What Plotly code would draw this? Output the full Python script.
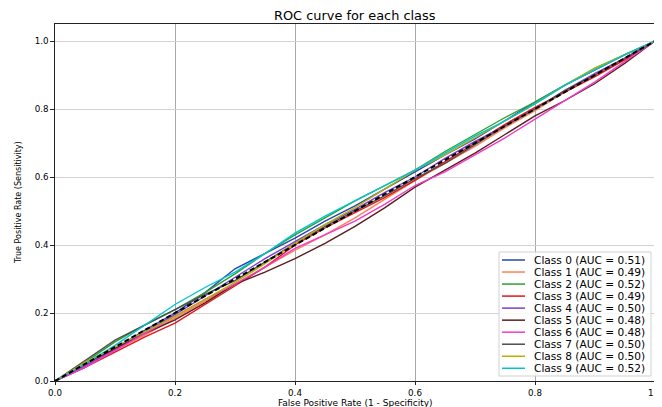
import plotly.graph_objects as go

# ---------------- data ----------------
fpr = [0, .05, .1, .15, .2, .25, .3, .35, .4, .45, .5, .55, .6, .65, .7, .75, .8, .85, .9, .95, 1]

tpr_class0 = [0, 0.040, 0.095, 0.150, 0.200, 0.260, 0.330, 0.375, 0.420, 0.470, 0.515, 0.565, 0.615, 0.665, 0.712, 0.765, 0.820, 0.870, 0.915, 0.960, 1]
tpr_class1 = [0, 0.045, 0.090, 0.135, 0.185, 0.235, 0.285, 0.335, 0.385, 0.430, 0.480, 0.535, 0.590, 0.640, 0.690, 0.745, 0.795, 0.850, 0.900, 0.945, 1]
tpr_class2 = [0, 0.055, 0.115, 0.165, 0.210, 0.260, 0.315, 0.375, 0.430, 0.480, 0.530, 0.575, 0.620, 0.675, 0.725, 0.775, 0.820, 0.870, 0.920, 0.960, 1]
tpr_class3 = [0, 0.040, 0.085, 0.130, 0.170, 0.225, 0.280, 0.335, 0.400, 0.450, 0.495, 0.540, 0.590, 0.645, 0.700, 0.755, 0.805, 0.850, 0.895, 0.945, 1]
tpr_class4 = [0, 0.045, 0.090, 0.145, 0.195, 0.250, 0.305, 0.360, 0.410, 0.460, 0.505, 0.555, 0.600, 0.655, 0.705, 0.750, 0.800, 0.855, 0.905, 0.950, 1]
tpr_class5 = [0, 0.050, 0.095, 0.140, 0.180, 0.230, 0.285, 0.320, 0.360, 0.405, 0.455, 0.510, 0.570, 0.620, 0.670, 0.725, 0.780, 0.825, 0.875, 0.935, 1]
tpr_class6 = [0, 0.040, 0.090, 0.140, 0.190, 0.240, 0.285, 0.335, 0.390, 0.430, 0.470, 0.520, 0.575, 0.615, 0.665, 0.715, 0.770, 0.825, 0.880, 0.940, 1]
tpr_class7 = [0, 0.060, 0.120, 0.165, 0.210, 0.255, 0.295, 0.350, 0.405, 0.455, 0.500, 0.545, 0.595, 0.640, 0.695, 0.750, 0.800, 0.855, 0.900, 0.950, 1]
tpr_class8 = [0, 0.055, 0.100, 0.145, 0.190, 0.240, 0.290, 0.345, 0.405, 0.460, 0.510, 0.565, 0.620, 0.665, 0.715, 0.765, 0.815, 0.870, 0.920, 0.960, 1]
tpr_class9 = [0, 0.050, 0.105, 0.165, 0.225, 0.275, 0.320, 0.375, 0.435, 0.485, 0.530, 0.575, 0.620, 0.670, 0.720, 0.765, 0.815, 0.870, 0.915, 0.960, 1]

class_names = ["Class 0", "Class 1", "Class 2", "Class 3", "Class 4",
               "Class 5", "Class 6", "Class 7", "Class 8", "Class 9"]
auc_values = [0.51, 0.49, 0.52, 0.49, 0.50, 0.48, 0.48, 0.50, 0.50, 0.52]

chance_x = [0, 1]
chance_y = [0, 1]

x_ticks = [0.0, 0.2, 0.4, 0.6, 0.8, 1.0]
y_ticks = [0.0, 0.2, 0.4, 0.6, 0.8, 1.0]

# ---------------- style ----------------
colors = ["#2546b4", "#ff7f50", "#2ca02c", "#e8141c", "#7d3cd6",
          "#5a1e1e", "#f03cc8", "#4d4d4d", "#b5b300", "#00c3d2"]
FONT = "DejaVu Sans"

all_tpr = [tpr_class0, tpr_class1, tpr_class2, tpr_class3, tpr_class4,
           tpr_class5, tpr_class6, tpr_class7, tpr_class8, tpr_class9]

fig = go.Figure()
for name, auc, tpr, col in zip(class_names, auc_values, all_tpr, colors):
    fig.add_trace(go.Scatter(x=fpr, y=tpr, mode="lines",
                             name=f"{name} (AUC = {auc:.2f})",
                             line=dict(color=col, width=1.4),
                             showlegend=False))
fig.add_trace(go.Scatter(x=chance_x, y=chance_y, mode="lines",
                         line=dict(color="black", width=2, dash="5px,3px"),
                         showlegend=False))

# The page body has a default 8px margin, so the figure is offset by OFF.
OFF = 8
W, H = 662 - OFF, 407 - OFF
# plot area in page pixels
PL, PR, PT, PB = 55, 655, 24, 381
L, R, T, B = PL - OFF, PR - OFF, PT - OFF, PB - OFF


def px(xp):
    return (xp - PL) / (PR - PL)


def py(yp):
    return (PB - yp) / (PB - PT)


# manual legend (matplotlib-like compact layout)
shapes = [dict(type="rect", xref="paper", yref="paper",
               x0=px(499), x1=px(651), y0=py(376), y1=py(252),
               line=dict(color="#d0d0d0", width=1),
               fillcolor="rgba(255,255,255,0.85)", layer="above")]
annotations = []
for i, (name, auc, col) in enumerate(zip(class_names, auc_values, colors)):
    yc = 260 + 12.03 * i
    shapes.append(dict(type="line", xref="paper", yref="paper",
                       x0=px(502), x1=px(525), y0=py(yc), y1=py(yc),
                       line=dict(color=col, width=1.5), layer="above"))
    annotations.append(dict(xref="paper", yref="paper", x=px(532), y=py(yc),
                            xanchor="left", yanchor="middle", showarrow=False,
                            text=f"{name} (AUC = {auc:.2f})",
                            font=dict(family=FONT, size=10.6, color="#000")))

# axis titles and chart title placed at fixed pixel positions
annotations.append(dict(xref="paper", yref="paper", x=px(355), y=py(402.5),
                        xanchor="center", yanchor="middle", showarrow=False,
                        text="False Positive Rate (1 - Specificity)",
                        font=dict(family=FONT, size=9, color="#000")))
annotations.append(dict(xref="paper", yref="paper", x=px(18), y=py(203),
                        xanchor="center", yanchor="middle", showarrow=False,
                        textangle=-90,
                        text="True Positive Rate (Sensitivity)",
                        font=dict(family=FONT, size=8, color="#000")))
annotations.append(dict(xref="paper", yref="paper", x=px(355), y=py(15),
                        xanchor="center", yanchor="middle", showarrow=False,
                        text="ROC curve for each class",
                        font=dict(family=FONT, size=12.9, color="#000")))

fig.update_layout(
    width=W, height=H,
    margin=dict(l=L, r=W - R, t=T, b=H - B, autoexpand=False),
    paper_bgcolor="white", plot_bgcolor="white",
    font=dict(family=FONT, size=9, color="#000"),
    shapes=shapes,
    annotations=annotations,
    showlegend=False,
)
fig.update_xaxes(range=[0, 1], tickvals=x_ticks, tickformat=".1f", automargin=False,
                 ticklabeloverflow="allow", tickfont=dict(size=8.7),
                 showgrid=True, gridcolor="#a8a8a8", gridwidth=1,
                 showline=True, linecolor="#222", linewidth=1.2, mirror=True,
                 ticks="outside", ticklen=3, tickcolor="#222", zeroline=False)
fig.update_yaxes(range=[0, 1.05], tickvals=y_ticks, tickformat=".1f", automargin=False,
                 tickfont=dict(size=8.7),
                 showgrid=True, gridcolor="#d2d2d2", gridwidth=1,
                 showline=True, linecolor="#222", linewidth=1.2, mirror=True,
                 ticks="outside", ticklen=3.5, tickcolor="#222", zeroline=False)

fig.write_html("out.html")
